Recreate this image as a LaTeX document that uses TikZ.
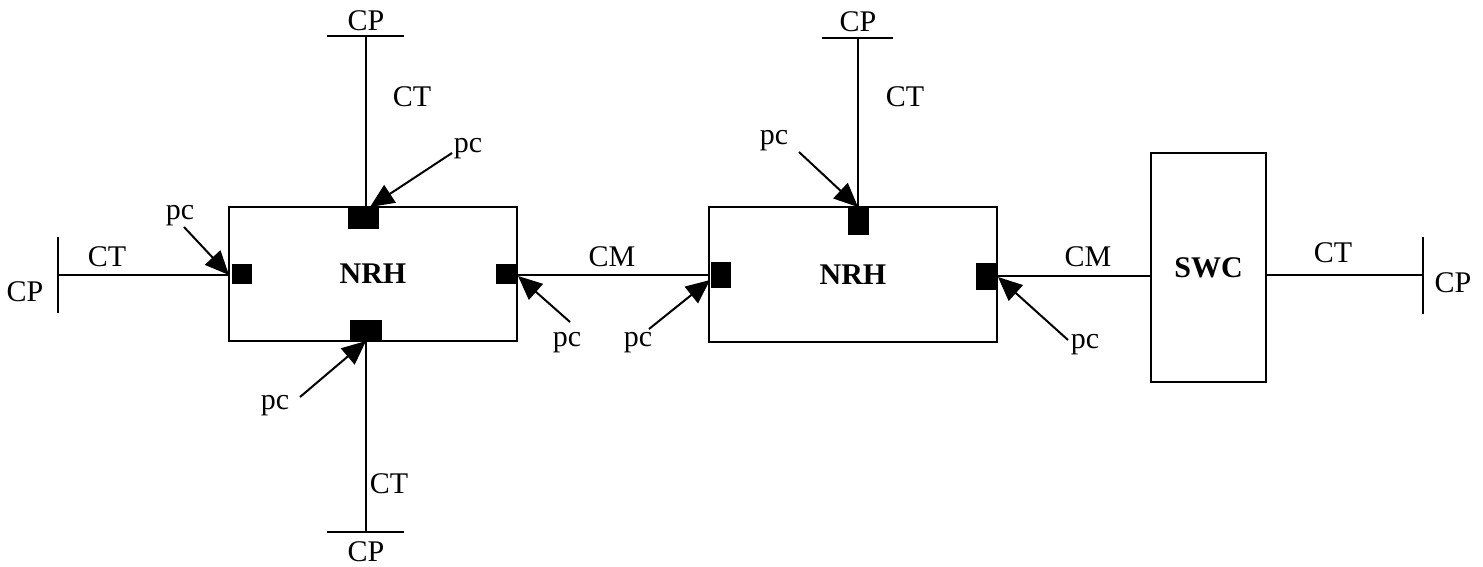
\documentclass[tikz,border=0pt]{standalone}
\usepackage{fontspec}
\setmainfont{Liberation Serif}
\usetikzlibrary{arrows.meta}
\begin{document}
\begin{tikzpicture}[x=1pt,y=-1pt,
  every node/.style={font=\fontsize{30}{32}\selectfont, inner sep=0pt, outer sep=0pt},
  box/.style={draw, line width=2pt, font=\fontsize{30}{32}\selectfont\bfseries},
  port/.style={fill=black, draw=none},
  wire/.style={line width=2pt},
  arr/.style={line width=2pt, -{Triangle[length=24pt,width=21pt]}}]
\useasboundingbox (0,0) rectangle (1483,567);
% boxes
\node[box, minimum width=288pt, minimum height=134pt] (n1) at (373,274) {NRH};
\node[box, minimum width=288pt, minimum height=135pt] (n2) at (853,274.5) {NRH};
\node[box, minimum width=115pt, minimum height=229pt] (sw) at (1208.5,267.5) {SWC};
% ports
\node[port, minimum width=31pt, minimum height=22pt] (p1t) at (363.5,218) {};
\node[port, minimum width=20pt, minimum height=20pt] (p1l) at (242,274) {};
\node[port, minimum width=21pt, minimum height=20pt] (p1r) at (506.5,274) {};
\node[port, minimum width=32pt, minimum height=21pt] (p1b) at (366,330.5) {};
\node[port, minimum width=21pt, minimum height=28pt] (p2t) at (858.5,221) {};
\node[port, minimum width=20pt, minimum height=26pt] (p2l) at (721,275) {};
\node[port, minimum width=21pt, minimum height=27pt] (p2r) at (986.5,276.5) {};
% CP bar coordinates
\coordinate (cpLa) at (58,237); \coordinate (cpLb) at (58,313); \coordinate (cpL) at (58,275);
\coordinate (cpTa) at (327,36); \coordinate (cpTb) at (404,36); \coordinate (cpT) at (366,36);
\coordinate (cpBa) at (327,532); \coordinate (cpBb) at (404,532); \coordinate (cpB) at (366,532);
\coordinate (cp2a) at (822,38); \coordinate (cp2b) at (893,38); \coordinate (cp2) at (858,38);
\coordinate (cpRa) at (1423,237); \coordinate (cpRb) at (1423,314); \coordinate (cpR) at (1423,275);
\draw[wire] (cpLa) -- (cpLb);
\draw[wire] (cpTa) -- (cpTb);
\draw[wire] (cpBa) -- (cpBb);
\draw[wire] (cp2a) -- (cp2b);
\draw[wire] (cpRa) -- (cpRb);
% wires
\draw[wire] (cpL) -- (cpL -| n1.west);
\draw[wire] (cpT) -- (cpT |- n1.north);
\draw[wire] (cpB) -- (cpB |- n1.south);
\draw[wire] (cp2) -- (cp2 |- n2.north);
\draw[wire] (n1.east |- 0,275) -- (n2.west |- 0,275);
\draw[wire] (n2.east |- 0,276) -- (sw.west |- 0,276);
\draw[wire] (sw.east |- cpR) -- (cpR);
% labels
\node (tCPl) at (25,292) {CP};
\node (tCTl) at (107,257) {CT};
\node (tCPt) at (366,21) {CP};
\node (tCTt) at (412,97) {CT};
\node (tCPb) at (366,552) {CP};
\node (tCTb) at (389,484) {CT};
\node (tCM1) at (612,257) {CM};
\node (tCP2) at (858,22) {CP};
\node (tCT2) at (905,97) {CT};
\node (tCM2) at (1088,257) {CM};
\node (tCTr) at (1333,253) {CT};
\node (tCPr) at (1453,283) {CP};
% pc labels and arrows
\node (pcA) at (180,216) {pc};
\node (pcB) at (468,149) {pc};
\node (pcC) at (567,343) {pc};
\node (pcD) at (275,406) {pc};
\node (pcE) at (774,141) {pc};
\node (pcF) at (638,343) {pc};
\node (pcG) at (1085,345) {pc};
\coordinate (aA) at (184,227); \coordinate (hA) at (229,275);
\coordinate (aB) at (452,153); \coordinate (hB) at (370,207);
\coordinate (aC) at (570,322); \coordinate (hC) at (518,276);
\coordinate (aD) at (300,397); \coordinate (hD) at (366,341);
\coordinate (aE) at (799,152); \coordinate (hE) at (858,207);
\coordinate (aF) at (649,329); \coordinate (hF) at (710,280);
\coordinate (aG) at (1068,340); \coordinate (hG) at (998,277);
\draw[arr] (aA) -- (hA);
\draw[arr] (aB) -- (hB);
\draw[arr] (aC) -- (hC);
\draw[arr] (aD) -- (hD);
\draw[arr] (aE) -- (hE);
\draw[arr] (aF) -- (hF);
\draw[arr] (aG) -- (hG);
\end{tikzpicture}
\end{document}
